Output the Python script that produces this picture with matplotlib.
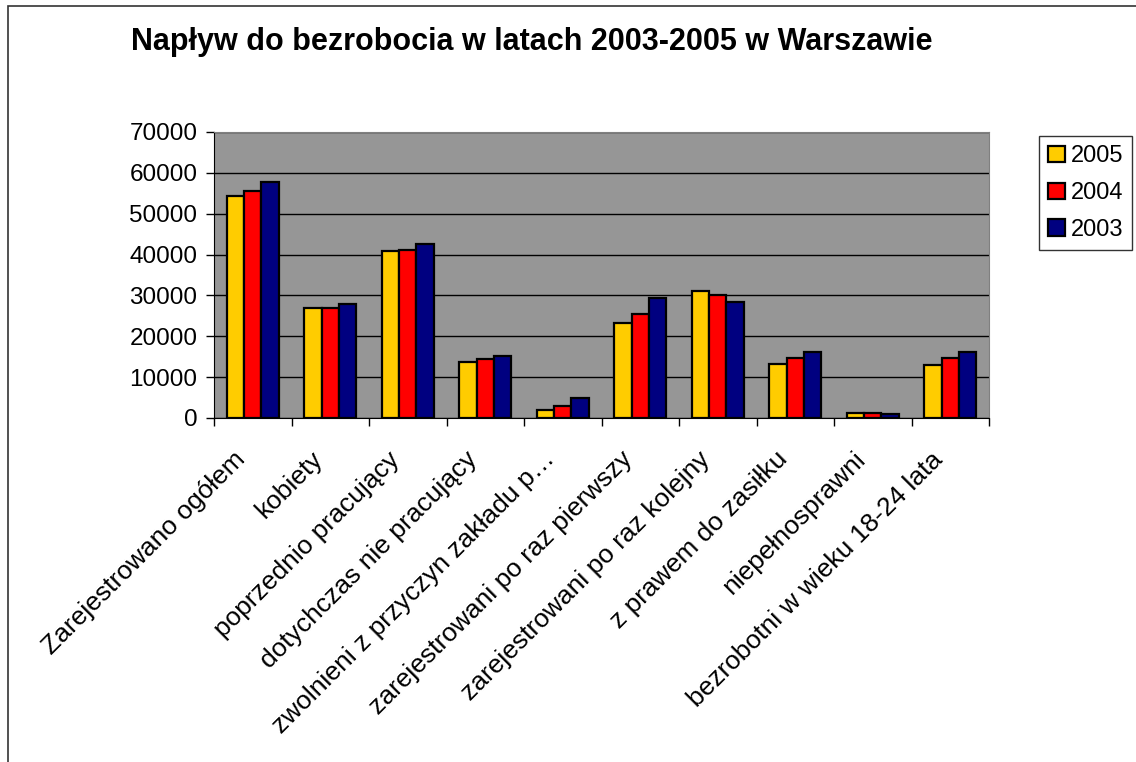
import numpy as np
import matplotlib
matplotlib.use("Agg")
import matplotlib.pyplot as plt
import matplotlib.transforms as mtransforms
from matplotlib.patches import Rectangle

# data
categories = ["Zarejestrowano ogółem", "kobiety", "poprzednio pracujący",
              "dotychczas nie pracujący", "zwolnieni z przyczyn zakładu p\u2026",
              "zarejestrowani po raz pierwszy", "zarejestrowani po raz kolejny",
              "z prawem do zasiłku", "niepełnosprawni", "bezrobotni w wieku 18-24 lata"]
years = ["2005", "2004", "2003"]
v2005 = [54400, 27000, 40800, 13700, 2000, 23300, 31200, 13300, 1300, 13000]
v2004 = [55500, 27000, 41000, 14500, 3000, 25500, 30100, 14700, 1200, 14800]
v2003 = [57700, 27900, 42500, 15100, 4900, 29400, 28300, 16100, 900, 16100]
colors = ["#FFCC00", "#FF0000", "#000080"]

plt.rcParams['font.family'] = ['Liberation Sans', 'DejaVu Sans']

fig = plt.figure(figsize=(11.36, 7.62), dpi=100)
ax = fig.add_axes([214 / 1136, 1 - 418 / 762, 775 / 1136, 286 / 762])

x = np.arange(len(categories))
w = 1 / 4.5
for i, (vals, lab) in enumerate(zip([v2005, v2004, v2003], years)):
    ax.bar(x + (i - 1) * w, vals, width=w, color=colors[i], edgecolor="black",
           linewidth=1.6, label=lab, zorder=3)

ax.set_facecolor("#969696")
ax.set_xlim(-0.5, len(categories) - 0.5)
ax.set_ylim(0, 70000)
ax.set_yticks(np.arange(0, 70001, 10000))
ax.yaxis.grid(True, color="black", linewidth=1.0, zorder=1)
ax.tick_params(axis="y", direction="out", length=6, width=1, labelsize=17.5, pad=6)

ax.set_xticks(np.arange(-0.5, len(categories), 1.0))
ax.set_xticklabels([])
ax.set_xticks(x, minor=True)
ax.set_xticklabels(categories, minor=True, rotation=45, ha="right", va="top",
                   rotation_mode="anchor", fontsize=19)
ax.tick_params(axis="x", which="major", direction="out", length=6, width=1)
ax.tick_params(axis="x", which="minor", length=0, pad=21)

# shift rotated labels left so their ends sit just left of the category centre
shift = mtransforms.ScaledTranslation(-0.20, 0, fig.dpi_scale_trans)
for lab in ax.get_xticklabels(minor=True):
    lab.set_transform(lab.get_transform() + shift)

for side in ["top", "right"]:
    ax.spines[side].set_color("#808080")
for side in ["left", "bottom"]:
    ax.spines[side].set_color("black")

fig.text(532 / 1136, 1 - 42 / 762, "Napływ do bezrobocia w latach 2003-2005 w Warszawie",
         ha="center", va="center", fontsize=22, fontweight="bold")

leg = ax.legend(loc="upper left", bbox_to_anchor=(1039 / 1136, 1 - 136 / 762),
                bbox_transform=fig.transFigure, fontsize=17, frameon=True,
                fancybox=False, edgecolor="black", handlelength=0.68,
                handleheight=0.68, handletextpad=0.25, borderpad=0.4,
                labelspacing=0.62, borderaxespad=0)
leg.get_frame().set_linewidth(1)

fig.patches.append(Rectangle((8 / 1136, -0.1), 1.2, 1 - 6 / 762 + 0.1,
                             transform=fig.transFigure, fill=False,
                             edgecolor="#333333", linewidth=1.2))

fig.savefig("out.png", dpi=100)
